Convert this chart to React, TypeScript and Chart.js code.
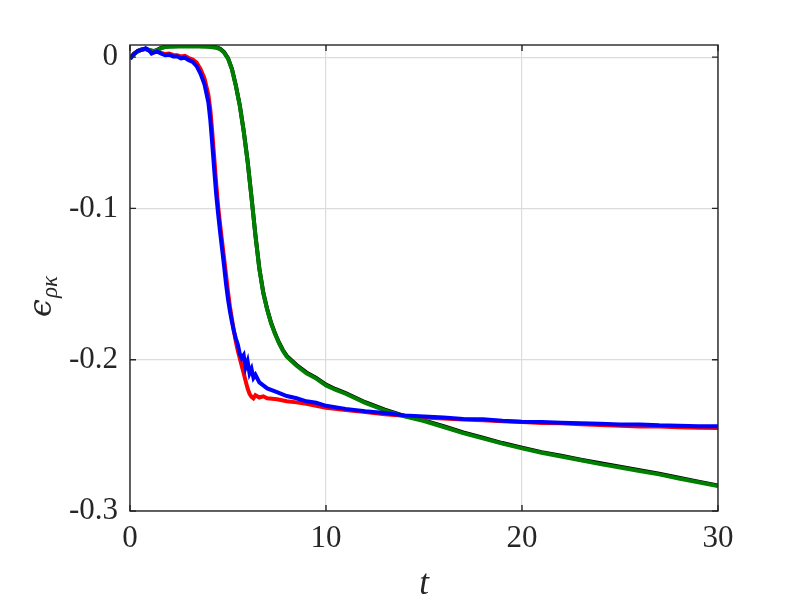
import React, { useEffect, useRef } from "react";
import { Chart, registerables } from "chart.js";

Chart.register(...registerables);

// time samples
const tDrop = [0,0.2,0.4,0.6,0.8,1.0,1.1,1.2,1.4,1.6,1.8,2.0,2.2,2.4,2.6,2.8,3.0,3.2,3.4,3.6,3.8,4.0,4.1,4.2,4.3,4.4,4.5,4.6,4.7,4.8,4.9,5.0,5.1,5.2,5.3,5.4,5.5,5.6,5.7,5.8,5.9,6.0,6.1,6.2,6.3,6.4,6.6,6.8,7.0,7.5,8,8.5,9,9.5,10,11,12,13,14,15,16,17,18,19,20,21,22,23,24,25,26,27,28,29,30];
const tSlow = [0,0.2,0.4,0.6,0.8,1.0,1.2,1.4,1.6,1.8,2.0,2.5,3.0,3.5,4.0,4.4,4.6,4.8,5.0,5.2,5.4,5.6,5.8,6.0,6.2,6.4,6.6,6.8,7.0,7.2,7.4,7.6,7.8,8.0,8.5,9,9.5,10,10.5,11,12,13,14,15,16,17,18,19,20,21,22,23,24,25,26,27,28,29,30];

// series values
const blueY = [
  -0.001, 0.002, 0.0042, 0.0048, 0.0058,
  0.004, 0.0024, 0.003, 0.0036, 0.0022, 0.0012,
  0.0016, 0.0004, 0.0006, -0.0008, -0.0004,
  -0.002, -0.0032, -0.006, -0.011, -0.018,
  -0.030, -0.042, -0.058, -0.075, -0.091, -0.104, -0.116, -0.127, -0.138, -0.150,
  -0.160, -0.168, -0.175, -0.181, -0.186, -0.190, -0.196, -0.199, -0.197, -0.205,
  -0.201, -0.209, -0.206, -0.212, -0.210, -0.215, -0.217,
  -0.219, -0.2215, -0.224, -0.2255, -0.2275, -0.2285, -0.2305,
  -0.2325, -0.2340, -0.2352, -0.2368, -0.2375, -0.2382, -0.2392, -0.2394, -0.2404, -0.2410,
  -0.2412, -0.2416, -0.2420, -0.2424, -0.2428, -0.2428, -0.2434, -0.2436, -0.2440, -0.2440,
];
const redY = [
  -0.001, 0.0022, 0.004, 0.005, 0.0054,
  0.0042, 0.0032, 0.003, 0.0036, 0.0028, 0.002,
  0.0024, 0.0014, 0.0012, 0.0004, 0.0008,
  -0.0006, -0.0016, -0.0036, -0.008, -0.014,
  -0.025, -0.035, -0.050, -0.067, -0.084, -0.099, -0.111, -0.122, -0.133, -0.144,
  -0.155, -0.165, -0.173, -0.181, -0.188, -0.194, -0.199, -0.204, -0.209, -0.214,
  -0.219, -0.2225, -0.2245, -0.2255, -0.2235, -0.2250, -0.2242,
  -0.2255, -0.2262, -0.2275, -0.2282, -0.2292, -0.2305, -0.2318,
  -0.2332, -0.2346, -0.2360, -0.2370, -0.2382, -0.2388, -0.2396, -0.2400, -0.2406, -0.2412,
  -0.2418, -0.2420, -0.2426, -0.2432, -0.2436, -0.2442, -0.2442, -0.2446, -0.2450, -0.2452,
];
const greenY = [
  -0.001, 0.002, 0.004, 0.005, 0.0055, 0.0045, 0.0038, 0.0046, 0.006, 0.0066, 0.0068,
  0.0070, 0.0071, 0.0070, 0.0068,
  0.0062, 0.0052, 0.0030,
  -0.001, -0.008, -0.019, -0.032, -0.049, -0.069, -0.093, -0.118, -0.140, -0.156, -0.167, -0.176, -0.183, -0.189, -0.194, -0.198,
  -0.204, -0.209, -0.2125, -0.2170, -0.2200, -0.2225,
  -0.2285, -0.2335, -0.2375, -0.2405, -0.2445, -0.2485, -0.2520, -0.2555, -0.2586, -0.2615, -0.2640, -0.2665, -0.2690, -0.2712, -0.2735, -0.2758, -0.2785, -0.2810, -0.2835,
];
const blackY = [
  -0.001, 0.002, 0.004, 0.005, 0.0055, 0.0046, 0.004, 0.0048, 0.0062, 0.0068, 0.0071,
  0.0073, 0.0074, 0.0073, 0.0071,
  0.0065, 0.0055, 0.0033,
  -0.0007, -0.0077, -0.0187, -0.0317, -0.0487, -0.0687, -0.0927, -0.1177, -0.1397, -0.1556, -0.1666, -0.1756, -0.1826, -0.1886, -0.1936, -0.1975,
  -0.2035, -0.2084, -0.2120, -0.2165, -0.2195, -0.2220,
  -0.2281, -0.2330, -0.2371, -0.2401, -0.2440, -0.2481, -0.2515, -0.2551, -0.2581, -0.2611, -0.2635, -0.2661, -0.2685, -0.2708, -0.2730, -0.2754, -0.2780, -0.2806, -0.2831,
];

// ticks
const xTicks = [0, 10, 20, 30];
const xTickLabels = ["0", "10", "20", "30"];
const yTicks = [-0.3, -0.2, -0.1, 0];
const yTickLabels = ["-0.3", "-0.2", "-0.1", "0"];

const AXIS = "#262626";
const GRID = "#dcdcdc";
const TICK_FONT = { family: "'Liberation Serif', 'Times New Roman', serif", size: 31 };

function pts(t: number[], y: number[]) {
  return t.map((v, i) => ({ x: v, y: y[i] }));
}

const boxPlugin = {
  id: "matlabBox",
  afterDraw(chart: any) {
    const { ctx, chartArea } = chart;
    const { left, right, top, bottom } = chartArea;
    const xs = chart.scales.x;
    const ys = chart.scales.y;
    ctx.save();
    ctx.strokeStyle = AXIS;
    ctx.lineWidth = 1.4;
    ctx.strokeRect(left, top, right - left, bottom - top);
    ctx.beginPath();
    const tl = 6;
    xTicks.forEach((v) => {
      const px = xs.getPixelForValue(v);
      ctx.moveTo(px, bottom);
      ctx.lineTo(px, bottom - tl);
      ctx.moveTo(px, top);
      ctx.lineTo(px, top + tl);
    });
    yTicks.forEach((v) => {
      const py = ys.getPixelForValue(v);
      ctx.moveTo(left, py);
      ctx.lineTo(left + tl, py);
      ctx.moveTo(right, py);
      ctx.lineTo(right - tl, py);
    });
    ctx.stroke();

    // x label
    ctx.fillStyle = AXIS;
    ctx.font = "italic 35px 'Liberation Serif', 'Times New Roman', serif";
    ctx.textAlign = "center";
    ctx.textBaseline = "alphabetic";
    ctx.fillText("t", (left + right) / 2, 594);

    // y label (rotated)
    ctx.translate(51, 317);
    ctx.rotate(-Math.PI / 2);
    ctx.textAlign = "left";
    ctx.font = "italic 32px 'DejaVu Serif', 'Liberation Serif', serif";
    ctx.fillText("\u03F5", 0, 0);
    const w = ctx.measureText("\u03F5").width;
    ctx.font = "italic 23px 'Liberation Serif', 'DejaVu Serif', serif";
    ctx.fillText("\u03C1\u03BA", w + 1, 6);
    ctx.restore();
  },
};

export default function App() {
  const ref = useRef<HTMLCanvasElement | null>(null);
  useEffect(() => {
    if (!ref.current) return;
    const lw = 4;
    const chart = new Chart(ref.current, {
      type: "line",
      data: {
        datasets: [
          { label: "blue", data: pts(tDrop, blueY), borderColor: "#0000ff", borderWidth: lw, pointRadius: 0, tension: 0 },
          { label: "green", data: pts(tSlow, greenY), borderColor: "#008000", borderWidth: lw, pointRadius: 0, tension: 0 },
          { label: "red", data: pts(tDrop, redY), borderColor: "#ff0000", borderWidth: lw, pointRadius: 0, tension: 0 },
          { label: "black", data: pts(tSlow, blackY), borderColor: "#000000", borderWidth: lw, pointRadius: 0, tension: 0 },
        ],
      },
      options: {
        responsive: false,
        animation: false,
        layout: { padding: { left: 0, right: 75, top: 45, bottom: 0 } },
        plugins: { legend: { display: false }, tooltip: { enabled: false } },
        scales: {
          x: {
            type: "linear",
            min: 0,
            max: 30,
            afterFit: (s: any) => { s.height = 98; },
            afterBuildTicks: (s: any) => { s.ticks = xTicks.map((v) => ({ value: v })); },
            ticks: {
              color: AXIS,
              font: TICK_FONT,
              padding: 9,
              maxRotation: 0,
              autoSkip: false,
              callback: (v: any) => xTickLabels[xTicks.indexOf(Number(v))] ?? "",
            },
            grid: { color: GRID, lineWidth: 1.2, drawTicks: false },
            border: { display: false },
          },
          y: {
            type: "linear",
            min: -0.3,
            max: 0.008,
            afterFit: (s: any) => { s.width = 130; },
            afterBuildTicks: (s: any) => { s.ticks = yTicks.map((v) => ({ value: v })); },
            ticks: {
              color: AXIS,
              font: TICK_FONT,
              padding: 12,
              autoSkip: false,
              callback: (v: any) => {
                const i = yTicks.findIndex((t) => Math.abs(t - Number(v)) < 1e-9);
                return i >= 0 ? yTickLabels[i] : "";
              },
            },
            grid: { color: GRID, lineWidth: 1.2, drawTicks: false },
            border: { display: false },
          },
        },
      },
      plugins: [boxPlugin],
    });
    return () => chart.destroy();
  }, []);
  return (
    <div style={{ position: "fixed", left: 0, top: 0, width: 793, height: 609, background: "#fff" }}>
      <canvas ref={ref} width={793} height={609} style={{ display: "block" }} />
    </div>
  );
}
